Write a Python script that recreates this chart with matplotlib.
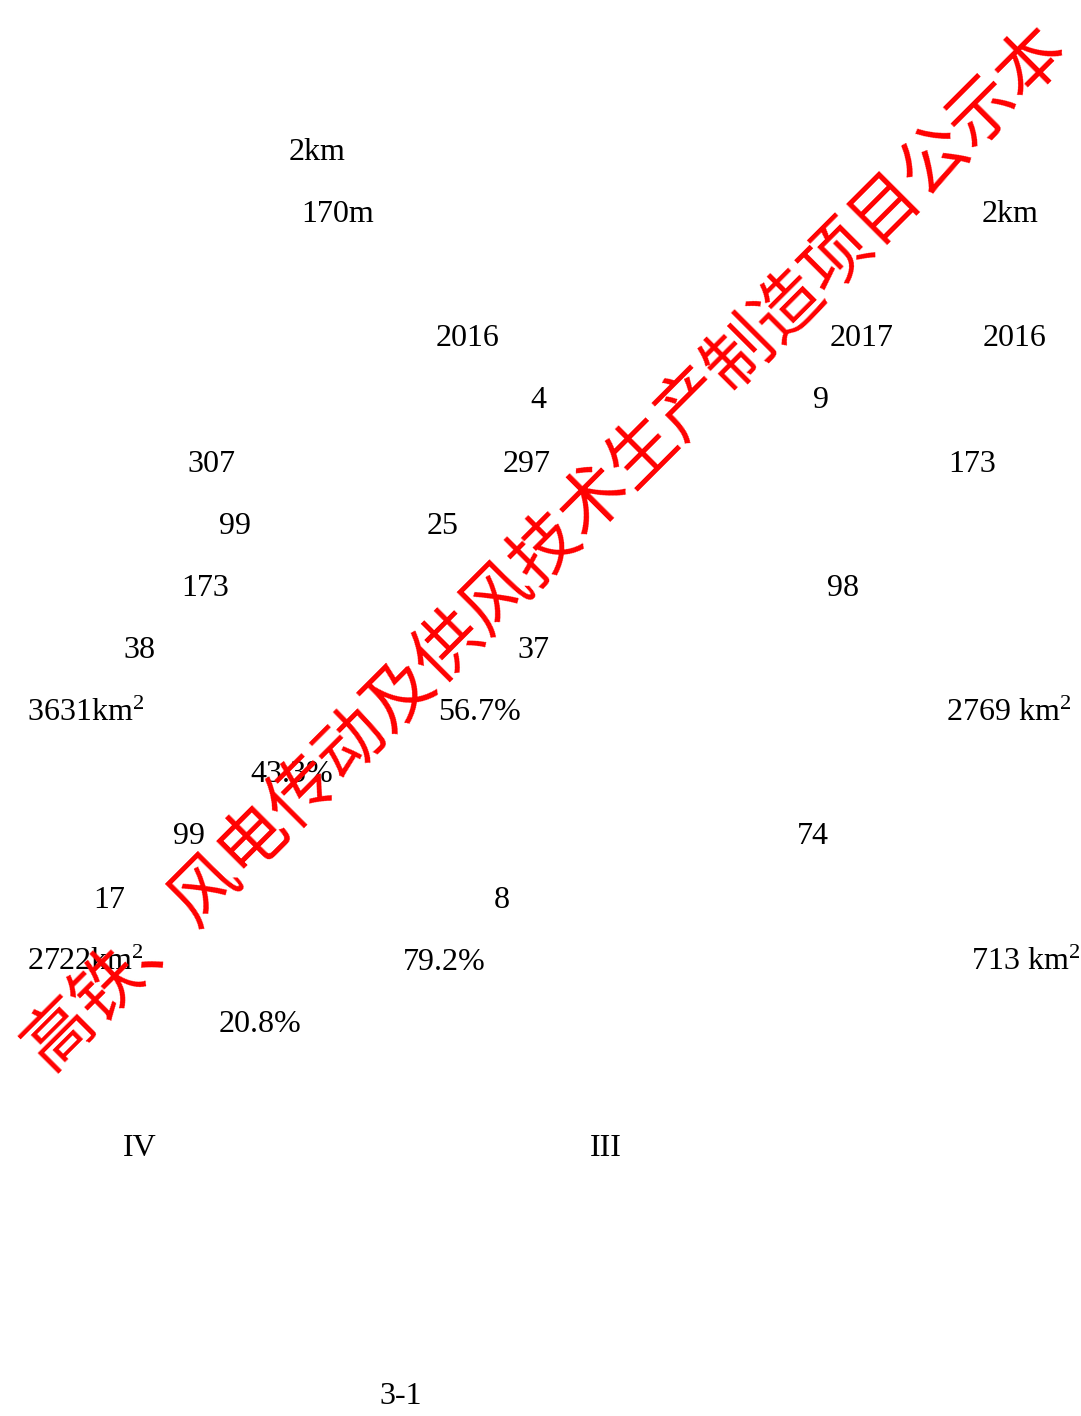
import matplotlib.pyplot as plt

plt.rcParams["mathtext.fontset"] = "custom"
plt.rcParams["mathtext.rm"] = "Liberation Serif"
plt.rcParams["mathtext.it"] = "Liberation Serif"

W, H = 1081, 1416

# page labels (text as it appears)
labels = [
    "2km", "170m", "2km",
    "2016", "2017", "2016",
    "4", "9",
    "307", "297", "173",
    "99", "25",
    "173", "98",
    "38", "37",
    r"3631km$^{\mathrm{2}}$", "56.7%", r"2769 km$^{\mathrm{2}}$",
    "43.3%",
    "99", "74",
    "17", "8",
    r"2722km$^{\mathrm{2}}$", "79.2%", r"713 km$^{\mathrm{2}}$",
    "20.8%",
    "IV", "III",
    "3-1",
]
# layout: left edge / vertical centre, in pixels
pos_x = [289, 301, 982, 436, 830, 983, 530, 813, 187, 503, 948, 219, 427,
         181, 827, 123, 517, 27, 438, 946, 250, 173, 797, 93, 494, 27, 403,
         971, 219, 123, 590, 379]
pos_y = [150, 212, 212, 336, 336, 336, 398, 398, 461, 461, 461, 523, 523,
         586, 586, 648, 648, 710, 710, 710, 772, 834, 834, 897, 897, 959, 959,
         959, 1021, 1146, 1146, 1394]

watermark = "高铁、风电传动及供风技术生产制造项目公示本"

fig = plt.figure(figsize=(W / 100, H / 100), dpi=100)
fig.patch.set_facecolor("white")

for s, x, y in zip(labels, pos_x, pos_y):
    fig.text(x / W, 1 - (y + 3) / H, s, fontsize=23, family="Liberation Serif",
             color="black", ha="left", va="center")

fig.text(547 / W, 1 - 548 / H, watermark, fontsize=49.5, color="red",
         family=["Noto Sans CJK SC", "DejaVu Sans"], rotation=45,
         rotation_mode="anchor", ha="center", va="center")

fig.savefig("out.png", dpi=100, facecolor="white")
